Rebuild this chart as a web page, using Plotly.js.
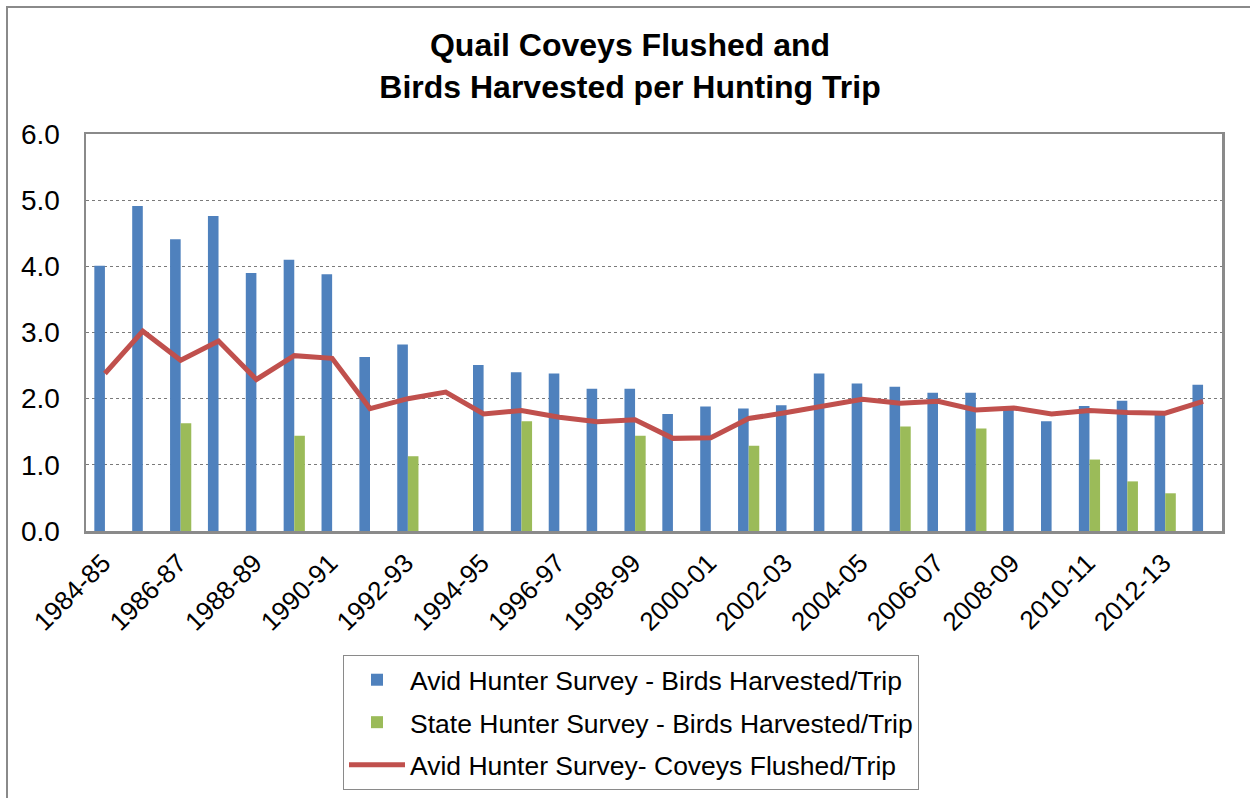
<!DOCTYPE html>
<html>
<head>
<meta charset="utf-8">
<script src="https://cdn.plot.ly/plotly-3.0.1.min.js"></script>
<style>html,body{margin:0;padding:0;background:#fff;}#chart{width:1250px;height:798px;}</style>
</head>
<body>
<div id="chart"></div>
<script>
const seasons = ["1984-85","1985-86","1986-87","1987-88","1988-89","1989-90","1990-91","1991-92","1992-93","1993-94",
  "1994-95","1995-96","1996-97","1997-98","1998-99","1999-00","2000-01","2001-02","2002-03","2003-04",
  "2004-05","2005-06","2006-07","2007-08","2008-09","2009-10","2010-11","2011-12","2012-13","2013-14"];
const avidBirds = [4.01,4.91,4.41,4.76,3.90,4.10,3.88,2.63,2.82,null,
  2.51,2.40,2.38,2.15,2.15,1.77,1.88,1.85,1.90,2.38,
  2.23,2.18,2.09,2.09,1.85,1.66,1.89,1.97,1.78,2.21];
const stateBirds = [null,null,1.63,null,null,1.44,null,null,1.13,null,
  null,1.66,null,null,1.44,null,null,1.29,null,null,
  null,1.58,null,1.55,null,null,1.08,0.75,0.57,null];
const avidCoveys = [2.38,3.02,2.58,2.87,2.29,2.65,2.61,1.85,2.00,2.10,
  1.77,1.82,1.72,1.65,1.68,1.40,1.41,1.70,1.79,1.89,
  1.99,1.93,1.96,1.83,1.86,1.77,1.82,1.79,1.78,1.96];
const tickLabels = seasons.filter((s, i) => i % 2 === 0);
const yTicks = [0,1,2,3,4,5,6];
const yTickText = ["0.0","1.0","2.0","3.0","4.0","5.0","6.0"];

const FONT = "Liberation Sans, Arial, sans-serif";

const traces = [
  {type:"bar", name:"Avid Hunter Survey - Birds Harvested/Trip", x:seasons, y:avidBirds,
   marker:{color:"#4F81BD", line:{width:0}}, legendgroup:"a"},
  {type:"bar", name:"State Hunter Survey - Birds Harvested/Trip", x:seasons, y:stateBirds,
   marker:{color:"#9BBB59", line:{width:0}}, legendgroup:"b"},
  {type:"scatter", mode:"lines", name:"Avid Hunter Survey- Coveys Flushed/Trip", x:seasons, y:avidCoveys,
   line:{color:"#C0504D", width:5}, legendgroup:"c", connectgaps:true}
];

const L = 86, R = 1222, T = 134, B = 531;
const pw = R - L, ph = B - T;
const px = v => (v - L) / pw;
const py = v => (B - v) / ph;

const layout = {
  width:1250, height:798,
  margin:{l:L, r:1250-R, t:T, b:798-B, pad:0, autoexpand:false},
  paper_bgcolor:"#ffffff", plot_bgcolor:"#ffffff",
  font:{family:FONT, color:"#000", size:22},
  title:{text:"Quail Coveys Flushed and<br>Birds Harvested per Hunting Trip",
    font:{family:FONT, size:32, color:"#000", weight:"bold"},
    x:630/1250, xref:"container", xanchor:"center",
    y:1-56/798, yref:"container", yanchor:"middle"},
  barmode:"group", bargap:0.44, bargroupgap:0,
  hovermode:false,
  xaxis:{type:"category", range:[-0.5, 29.5], tickmode:"array", tickvals:tickLabels, ticktext:tickLabels,
    tickangle:-45, tickfont:{family:FONT, size:26, color:"#000"}, ticks:"", showgrid:false,
    showline:true, mirror:true, linecolor:"#8a8a8a", linewidth:2.5, zeroline:false, automargin:false,
    ticklabelstandoff:4, ticklabelshift:-2, fixedrange:true},
  yaxis:{range:[0,6], tickmode:"array", tickvals:yTicks, ticktext:yTickText,
    tickfont:{family:FONT, size:28, color:"#000"}, ticks:"", showgrid:true, gridcolor:"#7a7a7a",
    griddash:"dot", gridwidth:1, showline:true, mirror:true, linecolor:"#8a8a8a", linewidth:2.5,
    zeroline:false, automargin:false, ticklabelstandoff:18, fixedrange:true},
  showlegend:true,
  legend:{x:px(343), y:py(655), xanchor:"left", yanchor:"top", orientation:"v",
    bordercolor:"#8a8a8a", borderwidth:1, bgcolor:"#fff",
    font:{family:FONT, size:26.5, color:"#000"}, traceorder:"grouped", tracegroupgap:5, itemwidth:56},
  shapes:[
    {type:"rect", xref:"paper", yref:"paper", x0:px(7), x1:px(1300), y0:py(850), y1:py(7),
     line:{color:"#8a8a8a", width:2}, fillcolor:"rgba(0,0,0,0)", layer:"below"}
  ]
};

Plotly.newPlot("chart", traces, layout, {displayModeBar:false, staticPlot:true});
</script>
</body>
</html>
